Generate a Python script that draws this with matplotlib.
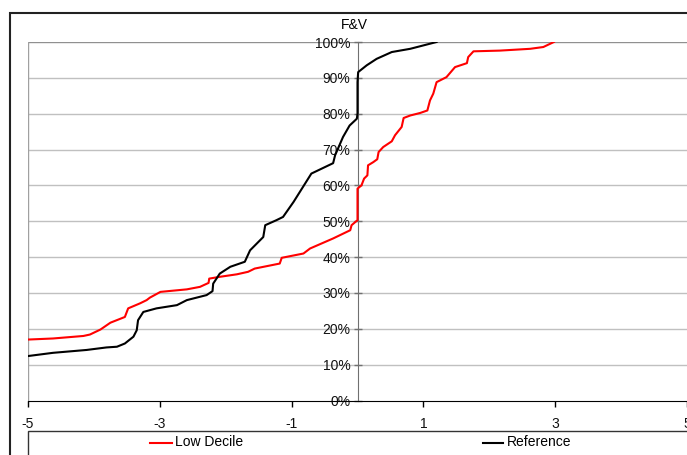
import matplotlib.pyplot as plt
from matplotlib.patches import Rectangle
from matplotlib.lines import Line2D

plt.rcParams['font.family'] = ['Liberation Sans', 'DejaVu Sans']
plt.rcParams['axes.unicode_minus'] = False

# Low Decile curve (x, cumulative share in %)
low_x = [-5.0, -4.62, -4.16, -4.06, -3.90, -3.75, -3.53, -3.48, -3.30, -3.20, -3.15,
         -2.99, -2.59, -2.39, -2.26, -2.25, -2.09, -1.83, -1.66, -1.56, -1.18, -1.15,
         -0.82, -0.72, -0.37, -0.11, -0.09, 0.0, 0.0, 0.06, 0.10, 0.15, 0.16, 0.24,
         0.30, 0.32, 0.39, 0.52, 0.57, 0.67, 0.70, 0.80, 0.95, 1.06, 1.10, 1.15, 1.20,
         1.35, 1.48, 1.66, 1.68, 1.76, 2.16, 2.62, 2.82, 2.98]
low_y = [17.0, 17.3, 18.0, 18.4, 19.8, 21.7, 23.3, 25.7, 27.1, 28.0, 28.7,
         30.3, 31.0, 31.7, 32.8, 34.0, 34.5, 35.2, 35.9, 36.8, 38.2, 39.8,
         41.0, 42.4, 45.2, 47.5, 48.9, 50.3, 59.1, 60.0, 61.9, 62.8, 65.6, 66.5,
         67.3, 69.3, 70.7, 72.3, 74.0, 76.3, 78.8, 79.5, 80.2, 80.9, 83.7, 85.6, 88.8,
         90.2, 93.0, 94.1, 95.8, 97.4, 97.6, 98.1, 98.6, 100.0]

# Reference curve
ref_x = [-5.0, -4.62, -4.11, -3.81, -3.65, -3.53, -3.40, -3.35, -3.33, -3.25, -3.05,
         -2.74, -2.59, -2.29, -2.20, -2.19, -2.09, -1.93, -1.71, -1.63, -1.43, -1.40,
         -1.23, -1.13, -0.97, -0.70, -0.37, -0.34, -0.22, -0.12, -0.01, 0.0, 0.0,
         0.01, 0.14, 0.29, 0.52, 0.80, 1.20]
ref_y = [12.4, 13.3, 14.1, 14.8, 15.0, 15.9, 17.8, 19.6, 22.4, 24.7, 25.7,
         26.6, 28.0, 29.4, 30.5, 32.6, 35.4, 37.3, 38.7, 41.9, 45.6, 48.9,
         50.3, 51.2, 55.4, 63.3, 66.2, 68.4, 73.5, 76.7, 78.6, 80.0, 88.8,
         91.6, 93.5, 95.3, 97.2, 98.1, 100.0]

x_ticks = [-5, -3, -1, 1, 3, 5]
y_ticks = [0, 10, 20, 30, 40, 50, 60, 70, 80, 90, 100]

W, H = 687, 455
fig = plt.figure(figsize=(W / 100, H / 100), dpi=100)
ax = fig.add_axes([28 / W, 1 - 400.5 / H, (687 - 28) / W, (400.5 - 42) / H])

for y in y_ticks[1:-1]:
    ax.axhline(y, color='#c0c0c0', lw=1, zorder=0)
ax.axhline(100, color='#909090', lw=1, zorder=0)
ax.axvline(-5, color='#a0a0a0', lw=1, zorder=0)

ax.plot(low_x, low_y, color='red', lw=1.5, zorder=3)
ax.plot(ref_x, ref_y, color='black', lw=1.5, zorder=3)

ax.set_xlim(-5, 5)
ax.set_ylim(0, 100)
ax.set_xticks(x_ticks)
ax.set_yticks(y_ticks)
ax.set_yticklabels([f"{v}%" for v in y_ticks])
ax.spines['left'].set_position(('data', 0))
ax.spines['left'].set_color('#707070')
ax.spines['right'].set_visible(False)
ax.spines['top'].set_visible(False)
ax.spines['bottom'].set_color('black')
ax.tick_params(axis='y', direction='inout', length=6, width=1, color='#707070',
               labelsize=10, pad=2, labelcolor='#111111')
ax.tick_params(axis='x', direction='out', length=4, width=1, labelsize=10, pad=8,
               labelcolor='#111111')

fig.text(354 / W, 1 - 25 / H, "F&V", ha='center', va='center', fontsize=10)

# chart area border
fig.patches.append(Rectangle((10 / W, -0.1), 1.0, 1 - 13 / H + 0.1,
                             transform=fig.transFigure, fill=False,
                             edgecolor='#222222', lw=1.5))
# legend box
fig.patches.append(Rectangle((28 / W, -0.1), (696 - 28) / W, 1 - 431 / H + 0.1,
                             transform=fig.transFigure, fill=False,
                             edgecolor='#333333', lw=1))
ly = 1 - 442.5 / H
fig.lines.append(Line2D([150 / W, 172 / W], [ly, ly], transform=fig.transFigure,
                        color='red', lw=1.5))
fig.text(175 / W, ly, "Low Decile", ha='left', va='center', fontsize=10)
fig.lines.append(Line2D([483 / W, 503 / W], [ly, ly], transform=fig.transFigure,
                        color='black', lw=1.5))
fig.text(507 / W, ly, "Reference", ha='left', va='center', fontsize=10)

fig.savefig("out.png", dpi=100)
